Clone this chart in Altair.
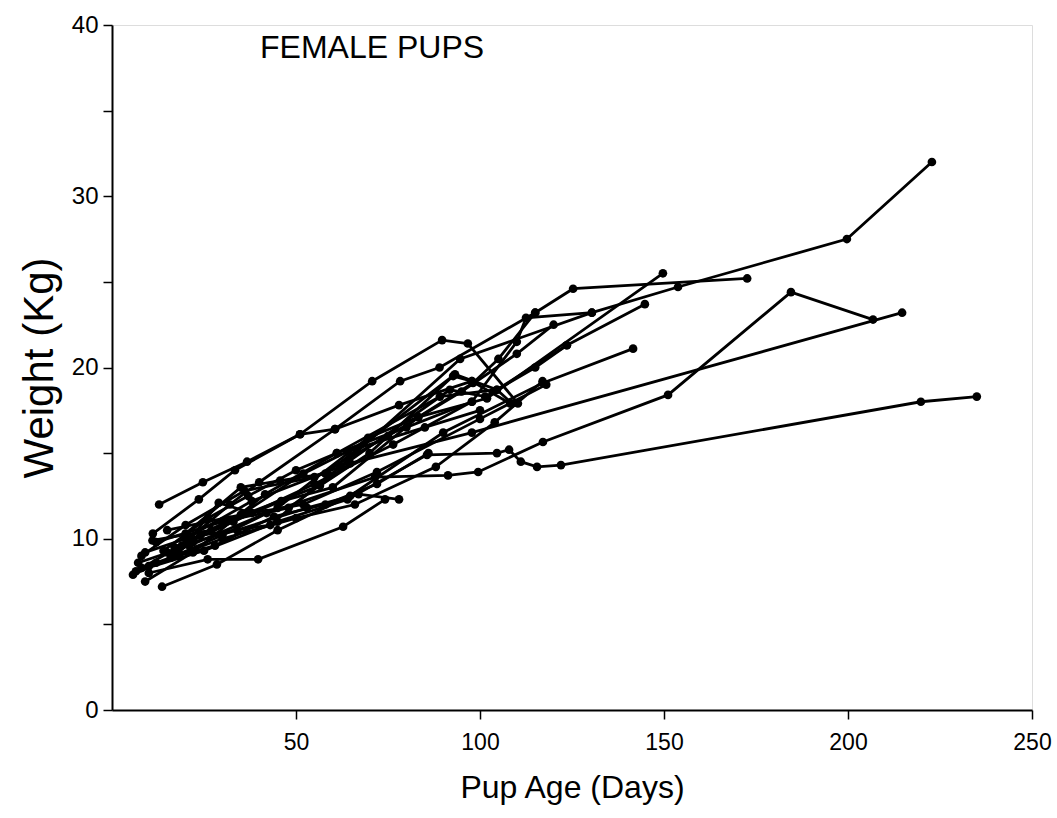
import altair as alt
import pandas as pd

# Each pup: ages (days) and weights (kg)
PUP_IDS = ["p01", "p02", "p03", "p04", "p05", "p06", "p07", "p08", "p09", "p10",
           "p11", "p12", "p13", "p14", "p15", "p16", "p17", "p18", "p19", "p20",
           "p21", "p22", "p23"]

PUP_DAYS = [
    [9, 20, 38, 62, 94.6, 130.4, 153.8, 199.7, 222.8],
    [12.8, 24.7, 36.7, 51.1, 70.7, 89.7, 96.7, 110.3],
    [11.1, 23.6, 33.4, 51.1, 60.6, 78.3, 89, 115, 125.3, 172.6],
    [5.7, 16, 30, 45, 69.6, 83.2, 101.9, 149.7],
    [8, 19, 33, 55, 76.4, 97.8, 110, 112.5, 130.4],
    [9, 22, 41.6, 61.1, 89.1, 104.6, 123.6, 144.8],
    [13.6, 28.5, 45, 64.7, 90, 117.1, 141.6],
    [10, 26, 39.7, 62.8, 74.2],
    [6.5, 25, 45, 64, 85.6, 104.6, 107.9, 111.1, 115.5, 122, 219.8, 235],
    [7.1, 21, 42, 71.5, 91.3, 99.5, 117.1, 151.1, 184.5, 206.8],
    [12, 30, 48, 64.7, 97.8, 214.7],
    [17, 32, 56.5, 70, 92.7, 97.8, 108.2],
    [15, 24, 43, 59, 91.8, 101.4, 115, 123.6],
    [11, 27, 46, 60, 83.2, 98.1, 105, 115],
    [20, 35, 45.7, 58, 93.2, 104.6, 108.7],
    [16, 32, 40, 60.6, 78, 97.8],
    [18, 29, 38, 52, 72, 100, 118],
    [14, 26, 37, 50, 61.1, 80, 97.8],
    [22, 34, 53, 67, 78],
    [10, 18, 28, 44, 58, 72, 86],
    [8, 20, 36, 55, 75, 95, 110, 120],
    [12, 30, 50, 66, 88, 104, 117],
    [15, 35, 52, 64, 85, 100],
]

PUP_KG = [
    [9.2, 10.0, 12.2, 14.2, 20.5, 23.2, 24.7, 27.5, 32.0],
    [12.0, 13.3, 14.5, 16.1, 19.2, 21.6, 21.4, 17.9],
    [10.3, 12.3, 14.0, 16.1, 16.4, 19.2, 20.0, 23.2, 24.6, 25.2],
    [7.9, 8.9, 10.2, 11.8, 15.9, 17.1, 18.2, 25.5],
    [8.3, 9.6, 11.0, 13.2, 15.5, 18.0, 21.5, 22.9, 23.2],
    [7.5, 9.2, 12.6, 15.0, 18.3, 18.7, 21.3, 23.7],
    [7.2, 8.5, 10.5, 12.5, 16.2, 19.1, 21.1],
    [8.0, 8.8, 8.8, 10.7, 12.3],
    [8.1, 9.3, 11.0, 12.3, 14.9, 15.0, 15.2, 14.5, 14.2, 14.3, 18.0, 18.3],
    [8.6, 9.6, 11.5, 13.6, 13.7, 13.9, 15.65, 18.4, 24.4, 22.8],
    [9.8, 11.0, 11.8, 14.4, 16.2, 23.2],
    [9.5, 11.1, 13.1, 15.0, 19.5, 19.2, 17.9],
    [9.2, 10.2, 10.8, 13.7, 18.7, 18.3, 20.0, 21.3],
    [9.9, 10.5, 12.2, 13.0, 17.1, 19.1, 20.5, 23.2],
    [10.3, 13.0, 13.4, 13.8, 19.6, 18.7, 17.9],
    [9.1, 12.0, 13.3, 16.4, 17.8, 19.2],
    [9.1, 12.1, 11.5, 12.0, 13.9, 17.0, 19.0],
    [9.3, 11.2, 12.5, 14.0, 15.0, 16.5, 18.0],
    [9.8, 10.5, 11.8, 12.6, 12.3],
    [8.4, 9.0, 9.6, 11.3, 12.0, 13.2, 15.0],
    [9.0, 10.8, 12.8, 13.6, 16.0, 18.6, 20.8, 22.5],
    [8.6, 10.0, 11.2, 12.0, 14.2, 16.8, 19.2],
    [10.5, 11.4, 13.8, 15.1, 16.5, 17.5],
]

X_TICKS = [50, 100, 150, 200, 250]
Y_TICKS = [0, 5, 10, 15, 20, 25, 30, 35, 40]

rows = []
for pid, days, kgs in zip(PUP_IDS, PUP_DAYS, PUP_KG):
    for i, (d, w) in enumerate(zip(days, kgs)):
        rows.append({"pup": pid, "age": d, "weight": w, "seq": i})
df = pd.DataFrame(rows)

FONT = "Liberation Sans"

x_enc = alt.X("age:Q", scale=alt.Scale(domain=[0, 250], nice=False, zero=True),
              axis=alt.Axis(values=X_TICKS, title="Pup Age (Days)", grid=False,
                            domainColor="black", domainWidth=2, tickColor="black",
                            tickWidth=1.5, tickSize=9, labelFontSize=23, labelFont=FONT,
                            labelColor="black", labelPadding=12, titleFont=FONT,
                            titleFontSize=32, titleFontWeight="normal", titleColor="black",
                            titlePadding=18, labelFlush=False))
y_enc = alt.Y("weight:Q", scale=alt.Scale(domain=[0, 40], nice=False),
              axis=alt.Axis(values=Y_TICKS, title="Weight (Kg)", grid=False,
                            labelExpr="datum.value % 10 == 0 ? datum.label : ''",
                            domainColor="black", domainWidth=2, tickColor="black",
                            tickWidth=1.5, tickSize=9, labelFontSize=24, labelFont=FONT,
                            labelColor="black", labelPadding=5, titleFont=FONT,
                            titleFontSize=42, titleFontWeight="normal", titleColor="black",
                            titlePadding=10))

base = alt.Chart(df)
lines = base.mark_line(color="black", strokeWidth=2.8).encode(
    x=x_enc, y=y_enc, detail="pup:N", order="seq:Q")
pts = base.mark_circle(color="black", opacity=1, size=75).encode(
    x="age:Q", y="weight:Q")

label = alt.Chart(pd.DataFrame({"t": ["FEMALE PUPS"]})).mark_text(
    align="left", baseline="middle", font=FONT, fontSize=32, color="black"
).encode(text="t:N", x=alt.value(148), y=alt.value(23))

chart = alt.layer(lines, pts, label).properties(
    width=920, height=685,
    autosize=alt.AutoSizeParams(type="none"),
    padding={"left": 112, "top": 25, "right": 25, "bottom": 108},
).configure_view(stroke=None).configure(background="white")

chart.save("out.html", embed_options={"renderer": "svg", "actions": False})
